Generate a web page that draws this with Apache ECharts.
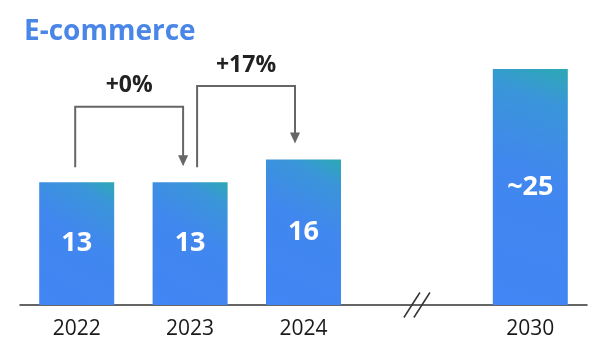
<!DOCTYPE html>
<html><head><meta charset="utf-8">
<script src="https://cdn.jsdelivr.net/npm/echarts@6/dist/echarts.min.js"></script>
<style>html,body{margin:0;padding:0;background:#fff}#c{width:606px;height:360px}</style>
</head><body><div id="c"></div>
<script>
const categories = ['2022', '2023', '2024', '', '2030'];
const values = [13, 13, 15.4, null, 25];
const valueLabels = ['13', '13', '16', '', '~25'];
const growthLabels = ['+0%', '+17%'];
const growthPairs = [[0, 1], [1, 2]];
const bracketLevels = [21, 23.2];

const chart = echarts.init(document.getElementById('c'), null, {renderer: 'canvas'});
const FONT = '"Open Sans", Roboto, sans-serif';
const grad = new echarts.graphic.LinearGradient(0, 1, 1, 0, [
  {offset: 0, color: '#4285F4'},
  {offset: 0.55, color: '#4187EF'},
  {offset: 0.85, color: '#3A95D9'},
  {offset: 1, color: '#2CA9B4'}
]);
chart.setOption({
  animation: false,
  title: {text: 'E-commerce', left: 19, top: 13,
    textStyle: {color: '#4A86E8', fontSize: 28, fontWeight: 'bold', fontFamily: FONT}},
  grid: {left: 20, right: 19, top: 69, bottom: 55},
  xAxis: {type: 'category', data: categories,
    axisLine: {lineStyle: {color: '#333', width: 1.5}},
    axisTick: {show: false},
    axisLabel: {color: '#1a1a1a', fontSize: 21, fontWeight: 500, fontFamily: FONT, margin: 14}},
  yAxis: {type: 'value', min: 0, max: 25, show: false, splitLine: {show: false}},
  series: [{type: 'bar', data: values, barWidth: 75,
    itemStyle: {color: grad},
    label: {show: true, position: 'inside', color: '#fff', fontSize: 27, fontWeight: 'bold', fontFamily: FONT,
      formatter: p => valueLabels[p.dataIndex]}}]
});

function px(i, v) { return chart.convertToPixel({xAxisIndex: 0, yAxisIndex: 0}, [i, v]); }
const gfx = [];
const lineStyle = {stroke: '#666', lineWidth: 2};
const leftOff = [-1.5, 7];
const rightOff = [-7, -8.5];
growthPairs.forEach(([a, b], k) => {
  const top = px(a, bracketLevels[k])[1];
  const xa = px(a, 0)[0] + leftOff[k];
  const xb = px(b, 0)[0] + rightOff[k];
  const legA = px(a, values[a])[1] - 15;
  const tip = px(b, values[b])[1] - 16;
  gfx.push({type: 'polyline', shape: {points: [[xa, legA], [xa, top], [xb, top], [xb, tip - 9]]}, style: Object.assign({fill: null}, lineStyle)});
  gfx.push({type: 'polygon', shape: {points: [[xb - 5, tip - 11], [xb + 5, tip - 11], [xb, tip]]}, style: {fill: '#666'}});
  gfx.push({type: 'text', x: (xa + xb) / 2, y: top - 21, style: {text: growthLabels[k], fill: '#222', font: 'bold 23px ' + FONT, align: 'center', verticalAlign: 'middle'}});
});
const bx = (px(2, 0)[0] + px(4, 0)[0]) / 2;
const by = px(2, 0)[1];
[-5, 5].forEach(d => {
  gfx.push({type: 'line', shape: {x1: bx + d - 8, y1: by + 12.5, x2: bx + d + 8, y2: by - 12.5}, style: {stroke: '#333', lineWidth: 1.5}});
});
chart.setOption({graphic: gfx});
</script></body></html>
